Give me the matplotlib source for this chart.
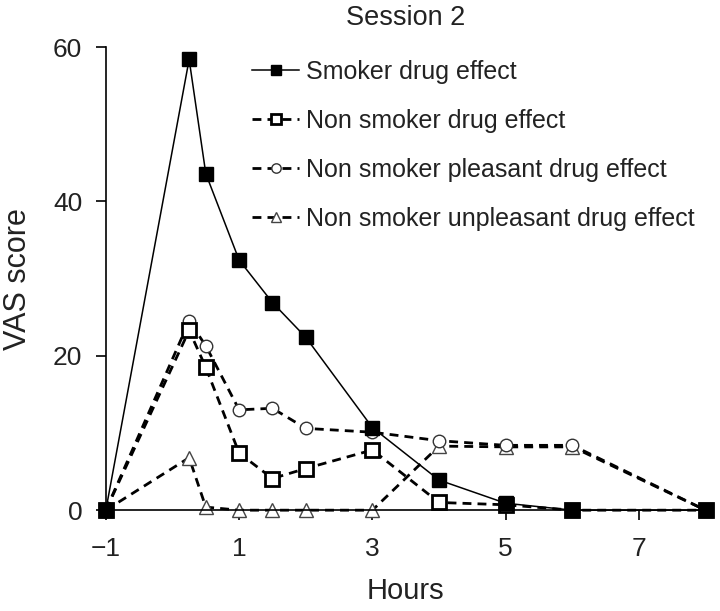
import matplotlib
matplotlib.use("Agg")
import matplotlib.pyplot as plt

hours = [-1, 0.25, 0.5, 1, 1.5, 2, 3, 4, 5, 6, 8]
smoker_drug = [0, 58.4, 43.6, 32.4, 26.9, 22.4, 10.7, 3.9, 0.9, 0, 0]
nonsmoker_drug = [0, 23.3, 18.5, 7.4, 4.1, 5.4, 7.8, 1.0, 0.7, 0, 0]
nonsmoker_pleasant = [0, 24.5, 21.3, 13.0, 13.2, 10.6, 10.1, 9.0, 8.4, 8.4, 0]
nonsmoker_unpleasant = [0, 6.8, 0.4, 0, 0, 0, 0, 8.3, 8.2, 8.2, 0]

labels = ["Smoker drug effect", "Non smoker drug effect",
          "Non smoker pleasant drug effect", "Non smoker unpleasant drug effect"]
xticks = [-1, 1, 3, 5, 7]
yticks = [0, 20, 40, 60]

plt.rcParams['font.family'] = ['Liberation Sans', 'DejaVu Sans']
tc = '#222222'

fig = plt.figure(figsize=(7.2, 6.11), dpi=100)
ax = fig.add_axes([0.147, 0.165, 0.833, 0.758])

dash = (0, (3.2, 2.2))
ax.plot(hours, nonsmoker_unpleasant, linestyle=dash, color='black', lw=2, marker='^',
        ms=10, mfc='white', mec='#444444', mew=1, clip_on=False, label=labels[3], zorder=2)
ax.plot(hours, nonsmoker_pleasant, linestyle=dash, color='black', lw=2, marker='o',
        ms=9, mfc='white', mec='#333333', mew=1, clip_on=False, label=labels[2], zorder=3)
ax.plot(hours, nonsmoker_drug, linestyle=dash, color='black', lw=2, marker='s',
        ms=10, mfc='white', mec='black', mew=2, clip_on=False, label=labels[1], zorder=4)
ax.plot(hours, smoker_drug, linestyle='-', color='black', lw=1.1, marker='s',
        ms=10, mfc='black', mec='black', clip_on=False, label=labels[0], zorder=5)

ax.set_xlim(-1, 8)
ax.set_ylim(0, 60)
ax.set_xticks(xticks)
ax.set_xticklabels(['\u22121', '1', '3', '5', '7'])
ax.set_yticks(yticks)
for s in ['top', 'right']:
    ax.spines[s].set_visible(False)
for s in ['left', 'bottom']:
    ax.spines[s].set_linewidth(1.2)
ax.tick_params(direction='out', length=7, width=1.2, labelsize=19, colors='black',
               labelcolor=tc)
ax.tick_params(axis='y', pad=10)
ax.tick_params(axis='x', pad=12)
ax.set_xlabel('Hours', fontsize=21, color=tc, labelpad=12)
ax.set_ylabel('VAS score', fontsize=22, color=tc, labelpad=14)
ax.set_title('Session 2', fontsize=19.5, color=tc, pad=16)

h, l = ax.get_legend_handles_labels()
leg = ax.legend(h[::-1], l[::-1], loc='upper left', bbox_to_anchor=(0.35, 0.902, 0, 0),
                bbox_transform=fig.transFigure, frameon=False, fontsize=18,
                handlelength=1.9, handletextpad=0.25, labelspacing=1.0, markerscale=0.75,
                borderaxespad=0, borderpad=0)
for t in leg.get_texts():
    t.set_color(tc)

fig.savefig('out.png', dpi=100)
